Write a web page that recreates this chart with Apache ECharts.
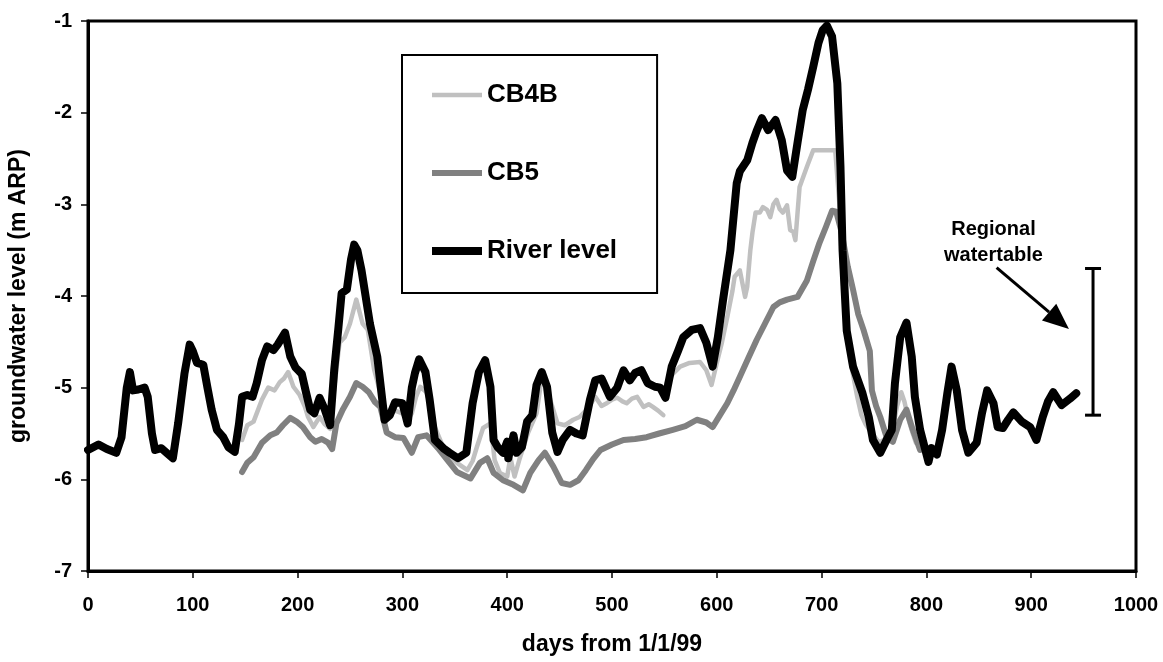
<!DOCTYPE html>
<html>
<head>
<meta charset="utf-8">
<script src="https://cdn.jsdelivr.net/npm/echarts@6/dist/echarts.min.js"></script>
<style>
  html, body { margin: 0; padding: 0; background: #fff; }
  #chart { width: 1163px; height: 662px; }
</style>
</head>
<body>
<div id="chart"></div>
<script>
// Groundwater levels in two bores and the river stage, days counted from 1 Jan 1999
const seriesNames = ['CB4B', 'CB5', 'River level'];

const xTicks = [0, 100, 200, 300, 400, 500, 600, 700, 800, 900, 1000];
const yTicks = [-7, -6, -5, -4, -3, -2, -1];

const riverDays = [0, 10, 18, 27, 32, 37, 40, 43, 48, 54, 57, 61, 64, 70, 76, 81, 86, 92, 97, 100,
  104, 110, 114, 118, 123, 129, 134, 140, 144, 147, 152, 157, 161, 166, 171, 177, 181, 188, 193, 198,
  204, 208, 212, 216, 221, 226, 231, 235, 239, 242, 247, 251, 254, 257, 261, 269, 276, 283, 288, 293,
  300, 305, 309, 312, 316, 322, 326, 331, 339, 345, 353, 361, 367, 373, 379, 384, 387, 391, 396, 400,
  401, 406, 409, 414, 419, 424, 428, 433, 438, 443, 448, 453, 460, 466, 472, 479, 484, 490, 498, 505,
  511, 517, 522, 528, 534, 541, 546, 551, 557, 563, 568, 576, 584, 590, 596, 601, 606, 613, 619, 622,
  629, 634, 638, 643, 649, 656, 662, 667, 672, 677, 682, 687, 692, 697, 701, 705, 710, 715, 718, 720,
  724, 730, 739, 745, 749, 756, 762, 767, 770, 775, 781, 786, 789, 794, 799, 802, 805, 810, 815, 820,
  824, 829, 834, 840, 848, 853, 858, 864, 868, 873, 878, 883, 891, 899, 905, 911, 916, 921, 929, 937, 943];
const riverLevel = [-5.68, -5.62, -5.67, -5.71, -5.54, -5.0, -4.83, -5.03, -5.02, -5.0, -5.1, -5.5, -5.68, -5.66, -5.72, -5.77, -5.39, -4.85, -4.53, -4.6,
  -4.73, -4.75, -5.0, -5.24, -5.46, -5.54, -5.65, -5.70, -5.4, -5.10, -5.08, -5.1, -4.95, -4.70, -4.55, -4.59, -4.53, -4.40, -4.66, -4.78,
  -4.85, -5.05, -5.24, -5.28, -5.11, -5.24, -5.41, -4.8, -4.34, -3.97, -3.93, -3.6, -3.44, -3.5, -3.72, -4.3, -4.66, -5.35, -5.3, -5.16,
  -5.17, -5.39, -5.0, -4.84, -4.69, -4.83, -5.13, -5.57, -5.66, -5.71, -5.77, -5.71, -5.17, -4.83, -4.70, -4.99, -5.57, -5.65, -5.71, -5.59,
  -5.77, -5.52, -5.71, -5.65, -5.37, -5.30, -4.97, -4.83, -4.99, -5.49, -5.70, -5.57, -5.46, -5.5, -5.52, -5.13, -4.92, -4.90, -5.10, -5.0,
  -4.81, -4.92, -4.84, -4.81, -4.95, -4.99, -5.0, -5.11, -4.77, -4.6, -4.45, -4.37, -4.35, -4.51, -4.77, -4.45, -4.04, -3.50, -2.77, -2.64,
  -2.52, -2.33, -2.2, -2.06, -2.19, -2.08, -2.30, -2.63, -2.70, -2.33, -1.97, -1.75, -1.50, -1.24, -1.1, -1.05, -1.17, -1.68, -2.59, -3.5,
  -4.38, -4.77, -5.06, -5.32, -5.57, -5.71, -5.57, -5.46, -4.95, -4.45, -4.29, -4.66, -5.10, -5.46, -5.68, -5.81, -5.66, -5.73, -5.46, -5.06,
  -4.77, -5.03, -5.46, -5.71, -5.60, -5.28, -5.03, -5.17, -5.43, -5.44, -5.35, -5.27, -5.37, -5.43, -5.57, -5.32, -5.15, -5.05, -5.19, -5.12, -5.06];

// CB4B has a gap in the record near day 550 (null breaks the line)
const cb4bDays = [147, 152, 158, 162, 166, 172, 178, 183, 187, 191, 196, 202, 207, 210, 215, 221, 226, 231, 235, 240,
  245, 250, 256, 262, 267, 273, 279, 285, 293, 300, 305, 309, 313, 317, 323, 327, 331, 339, 345, 352,
  362, 367, 371, 377, 384, 388, 393, 400, 403, 407, 412, 420, 428, 434, 441, 448, 455, 463, 469, 476,
  484, 490, 495, 500, 505, 510, 514, 519, 524, 530, 535, 539, 544, 549, 550,
  552, 558, 565, 574, 584, 590, 595, 600, 605, 610, 615, 617, 622, 627, 629, 632, 634, 637, 641, 644,
  648, 651, 654, 657, 660, 663, 667, 670, 673, 675, 679, 686, 692, 713, 717, 720, 724, 729, 734, 738,
  742, 748, 755, 762, 768, 772, 776, 779, 783, 787, 790];
const cb4bLevel = [-5.57, -5.41, -5.37, -5.25, -5.13, -5.00, -5.03, -4.94, -4.9, -4.83, -4.99, -5.08, -5.21, -5.32, -5.43, -5.32, -5.4, -5.45, -5.0, -4.51,
  -4.45, -4.3, -4.04, -4.3, -4.37, -4.8, -5.06, -5.28, -5.25, -5.28, -5.35, -5.28, -5.1, -4.99, -5.05, -5.2, -5.43, -5.65, -5.75, -5.82,
  -5.90, -5.8, -5.65, -5.44, -5.39, -5.79, -5.93, -5.97, -5.76, -5.97, -5.77, -5.49, -5.28, -4.81, -5.13, -5.39, -5.41, -5.35, -5.32, -5.24,
  -5.10, -5.2, -5.17, -5.13, -5.11, -5.15, -5.17, -5.12, -5.10, -5.21, -5.18, -5.21, -5.25, -5.30, null,
  -4.95, -4.85, -4.77, -4.73, -4.72, -4.81, -4.97, -4.73, -4.5, -4.23, -3.94, -3.79, -3.72, -4.01, -3.9, -3.50, -3.31, -3.09, -3.09, -3.03,
  -3.06, -3.14, -3.0, -2.95, -3.05, -3.09, -3.01, -3.28, -3.3, -3.39, -2.81, -2.59, -2.41, -2.41, -3.0, -3.8, -4.4, -4.8, -5.1, -5.3,
  -5.4, -5.5, -5.6, -5.55, -5.45, -5.2, -5.05, -5.15, -5.35, -5.5, -5.6];

const cb5Days = [147, 152, 158, 166, 174, 180, 186, 193, 199, 205, 212, 217, 223, 229, 233, 237, 243, 250, 256, 262,
  268, 274, 279, 285, 293, 301, 309, 315, 323, 334, 343, 352, 365, 374, 381, 387, 396, 406, 415, 422,
  430, 436, 444, 452, 460, 468, 475, 482, 489, 500, 511, 522, 533, 545, 558, 570, 581, 590, 596, 603,
  610, 616, 622, 630, 638, 646, 654, 660, 667, 677, 686, 692, 698, 704, 710, 714, 719, 725, 730, 735,
  740, 746, 748, 752, 756, 762, 768, 775, 781, 787, 794];
const cb5Level = [-5.92, -5.82, -5.76, -5.60, -5.52, -5.49, -5.41, -5.33, -5.37, -5.43, -5.54, -5.59, -5.56, -5.60, -5.67, -5.39, -5.24, -5.10, -4.95, -4.99,
  -5.05, -5.16, -5.21, -5.49, -5.54, -5.55, -5.71, -5.54, -5.52, -5.66, -5.79, -5.92, -5.99, -5.82, -5.77, -5.93, -6.01, -6.06, -6.12, -5.93,
  -5.79, -5.71, -5.86, -6.04, -6.06, -6.01, -5.9, -5.78, -5.68, -5.62, -5.57, -5.56, -5.54, -5.5, -5.46, -5.42, -5.35, -5.38, -5.43, -5.3,
  -5.17, -5.03, -4.88, -4.68, -4.48, -4.3, -4.12, -4.07, -4.04, -4.01, -3.83, -3.62, -3.42, -3.25, -3.07, -3.08, -3.3, -3.68, -3.93, -4.2,
  -4.37, -4.6, -5.03, -5.2, -5.32, -5.54, -5.59, -5.35, -5.24, -5.46, -5.68];

// Regional watertable band: day, lower level, upper level
const watertableDay = 959;
const watertableLow = -5.3;
const watertableHigh = -3.7;
const watertableLabel = ['Regional', 'watertable'];
// Arrow pointing at the band (day, level pairs) and label anchor
const arrowFrom = [867, -3.69];
const arrowTo = [936, -4.36];
const labelAt = [864, -3.42];

const zip = (xs, ys) => xs.map((x, i) => [x, ys[i]]);

const FONT = 'Liberation Sans, Arial, sans-serif';
const LINE_COLORS = ['#c0c0c0', '#808080', '#000000'];
const LINE_WIDTHS = [4.5, 6, 8];

const chart = echarts.init(document.getElementById('chart'));

// legend keys: flat bars whose thickness follows each series' line width
const legendData = seriesNames.map((name, i) => ({
  name: name,
  icon: 'path://M0,0H50V' + LINE_WIDTHS[i] + 'H0Z',
  itemStyle: { color: LINE_COLORS[i], borderWidth: 0 }
}));

const axisText = { fontFamily: FONT, fontSize: 20, fontWeight: 'bold', color: '#000' };
const nameText = { fontFamily: FONT, fontSize: 23, fontWeight: 'bold', color: '#000' };

function lineSeries(i, days, levels, z) {
  return {
    name: seriesNames[i], type: 'line', data: zip(days, levels),
    showSymbol: false, symbol: 'none', connectNulls: false, z: z,
    lineStyle: { color: LINE_COLORS[i], width: LINE_WIDTHS[i], cap: 'round', join: 'round' },
    itemStyle: { color: LINE_COLORS[i] }
  };
}

chart.setOption({
  backgroundColor: '#ffffff',
  animation: false,
  grid: {
    left: 88, right: 27, top: 21, bottom: 91,
    containLabel: false, outerBoundsMode: 'none',
    show: true, borderColor: '#000', borderWidth: 3, backgroundColor: '#fff'
  },
  legend: {
    data: legendData,
    orient: 'vertical',
    left: 402, top: 55,
    padding: [27, 40, 29, 30],
    itemWidth: 50, itemHeight: 26, itemGap: 52,
    symbolKeepAspect: true,
    borderColor: '#000', borderWidth: 2, backgroundColor: '#fff',
    textStyle: { fontFamily: FONT, fontSize: 26, fontWeight: 'bold', color: '#000' }
  },
  xAxis: {
    type: 'value',
    min: xTicks[0], max: xTicks[xTicks.length - 1], interval: 100,
    name: 'days from 1/1/99',
    nameLocation: 'middle', nameGap: 62,
    nameTextStyle: nameText,
    axisLine: { show: true, lineStyle: { color: '#000', width: 3 } },
    axisTick: { show: true, inside: false, length: 7, lineStyle: { color: '#000', width: 1.5 } },
    axisLabel: Object.assign({ margin: 24, formatter: v => String(v) }, axisText),
    splitLine: { show: false }
  },
  yAxis: {
    type: 'value',
    min: yTicks[0], max: yTicks[yTicks.length - 1], interval: 1,
    name: 'groundwater level (m ARP)',
    nameLocation: 'middle', nameGap: 58, nameRotate: 90,
    nameTextStyle: nameText,
    axisLine: { show: true, lineStyle: { color: '#000', width: 3 } },
    axisTick: { show: true, inside: false, length: 7, lineStyle: { color: '#000', width: 1.5 } },
    axisLabel: Object.assign({ margin: 16, formatter: v => String(v) }, axisText),
    splitLine: { show: false }
  },
  series: [
    lineSeries(0, cb4bDays, cb4bLevel, 2),
    lineSeries(1, cb5Days, cb5Level, 3),
    lineSeries(2, riverDays, riverLevel, 4),
    {
      name: 'watertable', type: 'custom', z: 5, silent: true,
      data: [[watertableDay, watertableLow, watertableHigh]],
      renderItem: function (params, api) {
        const top = api.coord([api.value(0), api.value(2)]);
        const bot = api.coord([api.value(0), api.value(1)]);
        const cap = 8;
        const a = api.coord(arrowFrom);
        const b = api.coord(arrowTo);
        const ang = Math.atan2(b[1] - a[1], b[0] - a[0]);
        const headLen = 26, headHalf = 11;
        const base = [b[0] - headLen * Math.cos(ang), b[1] - headLen * Math.sin(ang)];
        const p1 = [base[0] + headHalf * Math.sin(ang), base[1] - headHalf * Math.cos(ang)];
        const p2 = [base[0] - headHalf * Math.sin(ang), base[1] + headHalf * Math.cos(ang)];
        const lbl = api.coord(labelAt);
        const stroke = { stroke: '#000', lineWidth: 3 };
        return {
          type: 'group',
          children: [
            { type: 'line', shape: { x1: top[0], y1: top[1], x2: bot[0], y2: bot[1] }, style: stroke },
            { type: 'line', shape: { x1: top[0] - cap, y1: top[1], x2: top[0] + cap, y2: top[1] }, style: stroke },
            { type: 'line', shape: { x1: bot[0] - cap, y1: bot[1], x2: bot[0] + cap, y2: bot[1] }, style: stroke },
            { type: 'line', shape: { x1: a[0], y1: a[1], x2: base[0], y2: base[1] }, style: stroke },
            { type: 'polygon', shape: { points: [b, p1, p2] }, style: { fill: '#000' } },
            {
              type: 'text',
              style: {
                x: lbl[0], y: lbl[1], text: watertableLabel.join('\n'),
                align: 'center', verticalAlign: 'middle', lineHeight: 26,
                font: 'bold 20px ' + FONT, fill: '#000'
              }
            }
          ]
        };
      }
    }
  ]
});
</script>
</body>
</html>
